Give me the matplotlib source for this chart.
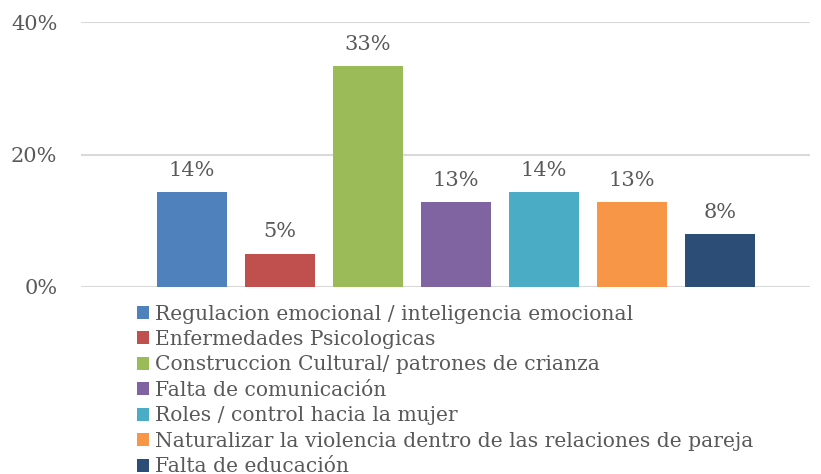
import matplotlib.pyplot as plt
from matplotlib.patches import Patch
from matplotlib.ticker import PercentFormatter

categorias = [
    "Regulacion emocional / inteligencia emocional",
    "Enfermedades Psicologicas",
    "Construccion Cultural/ patrones de crianza",
    "Falta de comunicación",
    "Roles / control hacia la mujer",
    "Naturalizar la violencia dentro de las relaciones de pareja",
    "Falta de educación",
]
valores = [0.143, 0.05, 0.333, 0.128, 0.143, 0.128, 0.08]
etiquetas = ["14%", "5%", "33%", "13%", "14%", "13%", "8%"]
colores = ["#4F81BD", "#C0504D", "#9BBB59", "#8064A2", "#4BACC6", "#F79646", "#2C4D75"]

gris = "#595959"
plt.rcParams['font.family'] = ['DejaVu Serif']

fig = plt.figure(figsize=(8.21, 4.74), dpi=100)
ax = fig.add_axes([81 / 821, 1 - 287 / 474, 729 / 821, 265 / 474])

x = list(range(len(valores)))
barras = ax.bar(x, valores, width=70 / 88, color=colores, zorder=3)
for xi, v, t in zip(x, valores, etiquetas):
    ax.annotate(t, (xi, v), xytext=(0, 9), textcoords="offset points",
                ha="center", va="bottom", fontsize=15, color=gris)

ax.set_xlim(-111 / 88, 618 / 88)
ax.set_ylim(0, 0.4)
ax.set_yticks([0, 0.2, 0.4])
ax.yaxis.set_major_formatter(PercentFormatter(1.0, decimals=0))
ax.grid(axis="y", color="#D9D9D9", linewidth=1.5, zorder=0)
ax.set_xticks([])
ax.tick_params(axis="y", length=0, pad=17, labelsize=15, labelcolor=gris)
for s in ax.spines.values():
    s.set_visible(False)

handles = [Patch(facecolor=c) for c in colores]
fig.legend(handles, categorias, loc="upper left", bbox_to_anchor=(137 / 821, 1 - 304.5 / 474),
           frameon=False, fontsize=14.6, labelcolor=gris, handlelength=0.6, handleheight=0.6,
           handletextpad=0.3, labelspacing=0.32, borderpad=0, borderaxespad=0)

fig.savefig("out.png", dpi=100)
